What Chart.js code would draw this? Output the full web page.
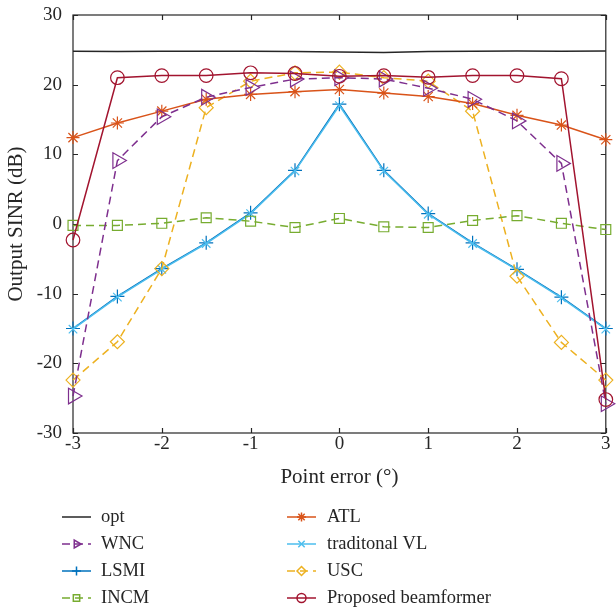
<!DOCTYPE html>
<html>
<head>
<meta charset="utf-8">
<script src="https://cdn.jsdelivr.net/npm/chart.js@4.4.1/dist/chart.umd.min.js"></script>
<style>
  html, body { margin: 0; padding: 0; background: #fff; }
  #wrap { width: 616px; height: 611px; }
</style>
</head>
<body>
<div id="wrap"><canvas id="sinrChart"></canvas></div>
<script>
// point error in degrees
var pointErr = [-3, -2.5, -2, -1.5, -1, -0.5, 0, 0.5, 1, 1.5, 2, 2.5, 3];

// output SINR (dB) for each beamformer
var opt      = [24.8, 24.75, 24.8, 24.8, 24.8, 24.75, 24.7, 24.6, 24.75, 24.8, 24.85, 24.8, 24.85];
var wnc      = [-24.7, 9.1, 15.4, 18.2, 19.6, 20.8, 21.0, 20.8, 19.5, 17.9, 14.8, 8.7, -25.8];
var lsmi     = [-15.0, -10.4, -6.4, -2.7, 1.6, 7.7, 17.2, 7.7, 1.5, -2.7, -6.5, -10.5, -15.0];
var incm     = [-0.2, -0.2, 0.1, 0.9, 0.4, -0.5, 0.8, -0.4, -0.5, 0.5, 1.2, 0.1, -0.8];
var atl      = [12.4, 14.5, 16.2, 17.9, 18.6, 19.0, 19.3, 18.8, 18.3, 17.3, 15.6, 14.2, 12.1];
var tradVL   = [-15.1, -10.5, -6.5, -2.8, 1.5, 7.6, 17.0, 7.6, 1.4, -2.8, -6.6, -10.6, -15.1];
var usc      = [-22.4, -16.9, -6.4, 16.7, 20.5, 21.7, 21.8, 21.0, 20.5, 16.2, -7.5, -17.0, -22.4];
var proposed = [-2.3, 21.0, 21.3, 21.3, 21.7, 21.6, 21.2, 21.3, 21.05, 21.3, 21.3, 20.85, -25.2];

var xTicks = [-3, -2, -1, 0, 1, 2, 3];
var yTicks = [-30, -20, -10, 0, 10, 20, 30];

var axisColor = '#262626';
var serif = '"Liberation Serif", "DejaVu Serif", serif';
var none = 'rgba(0,0,0,0)';

function pts(vals) {
  return vals.map(function (v, i) { return { x: pointErr[i], y: v }; });
}

function series(label, vals, color, style, radius, dashed, rot, order) {
  return {
    label: label,
    data: pts(vals),
    borderColor: color,
    backgroundColor: none,
    borderWidth: 1.5,
    borderDash: dashed ? [8, 5] : [],
    pointStyle: style,
    pointRadius: radius,
    pointRotation: rot || 0,
    pointBorderColor: color,
    pointBackgroundColor: none,
    pointBorderWidth: 1.2,
    clip: false,
    tension: 0,
    order: order || 0
  };
}

// traditional VL sits on top of LSMI, the red curve on top of everything
var datasets = [
  series('opt', opt, '#262626', 'circle', 0, false),
  series('WNC', wnc, '#7E2F8E', 'triangle', 9, true, 90),
  series('LSMI', lsmi, '#0072BD', 'cross', 7, false, 0, 2),
  series('INCM', incm, '#77AC30', 'rect', 7, true),
  series('ATL', atl, '#D95319', 'star', 6.5, false),
  series('traditonal VL', tradVL, '#4DBEEE', 'crossRot', 6, false, 0, 1),
  series('USC', usc, '#EDB120', 'rectRot', 7, true),
  series('Proposed beamformer', proposed, '#A2142F', 'circle', 6.8, false, 0, -1)
];

// box frame with inward ticks on all four sides
var boxTicks = {
  id: 'boxTicks',
  beforeDatasetsDraw: function (chart) {
    var ctx = chart.ctx, a = chart.chartArea;
    var xs = chart.scales.x, ys = chart.scales.y;
    var len = 5;
    ctx.save();
    ctx.strokeStyle = axisColor;
    ctx.lineWidth = 1.2;
    ctx.strokeRect(a.left, a.top, a.right - a.left, a.bottom - a.top);
    ctx.beginPath();
    xTicks.forEach(function (t) {
      var px = Math.round(xs.getPixelForValue(t)) + 0.5;
      ctx.moveTo(px, a.bottom); ctx.lineTo(px, a.bottom - len);
      ctx.moveTo(px, a.top); ctx.lineTo(px, a.top + len);
    });
    yTicks.forEach(function (t) {
      var py = Math.round(ys.getPixelForValue(t)) + 0.5;
      ctx.moveTo(a.left, py); ctx.lineTo(a.left + len, py);
      ctx.moveTo(a.right, py); ctx.lineTo(a.right - len, py);
    });
    ctx.stroke();
    ctx.restore();
  }
};

// two-column legend under the plot, filled column by column
var sideLegend = {
  id: 'sideLegend',
  afterDraw: function (chart) {
    var ctx = chart.ctx;
    var colLine = [62, 287];
    var colText = [101, 327];
    var rowY = [517, 544, 571, 598];
    var lineLen = 29;
    ctx.save();
    chart.data.datasets.forEach(function (ds, i) {
      var c = Math.floor(i / 4), r = i % 4;
      var x0 = colLine[c], y = rowY[r];
      ctx.strokeStyle = ds.borderColor;
      ctx.fillStyle = none;
      ctx.lineWidth = 1.5;
      ctx.setLineDash(ds.borderDash);
      ctx.beginPath();
      ctx.moveTo(x0, y); ctx.lineTo(x0 + lineLen, y);
      ctx.stroke();
      ctx.setLineDash([]);
      if (ds.pointRadius > 0) {
        Chart.helpers.drawPoint(ctx, {
          pointStyle: ds.pointStyle,
          radius: 4.5,
          rotation: ds.pointRotation,
          borderWidth: 1.2
        }, x0 + lineLen / 2, y);
      }
      ctx.fillStyle = axisColor;
      ctx.font = '18.5px ' + serif;
      ctx.textAlign = 'left';
      ctx.textBaseline = 'middle';
      ctx.fillText(ds.label, colText[c], y);
    });
    ctx.restore();
  }
};

new Chart(document.getElementById('sinrChart'), {
  type: 'line',
  data: { datasets: datasets },
  options: {
    responsive: true,
    maintainAspectRatio: false,
    animation: false,
    layout: { padding: { top: 15, right: 10, bottom: 121, left: 0 } },
    plugins: {
      legend: { display: false },
      tooltip: { enabled: false }
    },
    scales: {
      x: {
        type: 'linear',
        min: -3, max: 3,
        afterFit: function (s) { s.height = 57; s.paddingLeft = 0; s.paddingRight = 0; },
        afterBuildTicks: function (s) { s.ticks = xTicks.map(function (v) { return { value: v }; }); },
        grid: { display: false, drawTicks: false },
        border: { display: false },
        ticks: { color: axisColor, font: { family: serif, size: 19 }, padding: 0, maxRotation: 0 },
        title: { display: true, text: 'Point error (°)', color: axisColor, font: { family: serif, size: 21 }, padding: { bottom: 0 } }
      },
      y: {
        min: -30, max: 30,
        afterFit: function (s) { s.width = 73; s.paddingTop = 0; s.paddingBottom = 0; },
        afterBuildTicks: function (s) { s.ticks = yTicks.map(function (v) { return { value: v }; }); },
        grid: { display: false, drawTicks: false },
        border: { display: false },
        ticks: { color: axisColor, font: { family: serif, size: 19 }, padding: 11 },
        title: { display: true, text: 'Output SINR (dB)', color: axisColor, font: { family: serif, size: 21 }, padding: { top: 4 } }
      }
    }
  },
  plugins: [boxTicks, sideLegend]
});
</script>
</body>
</html>
